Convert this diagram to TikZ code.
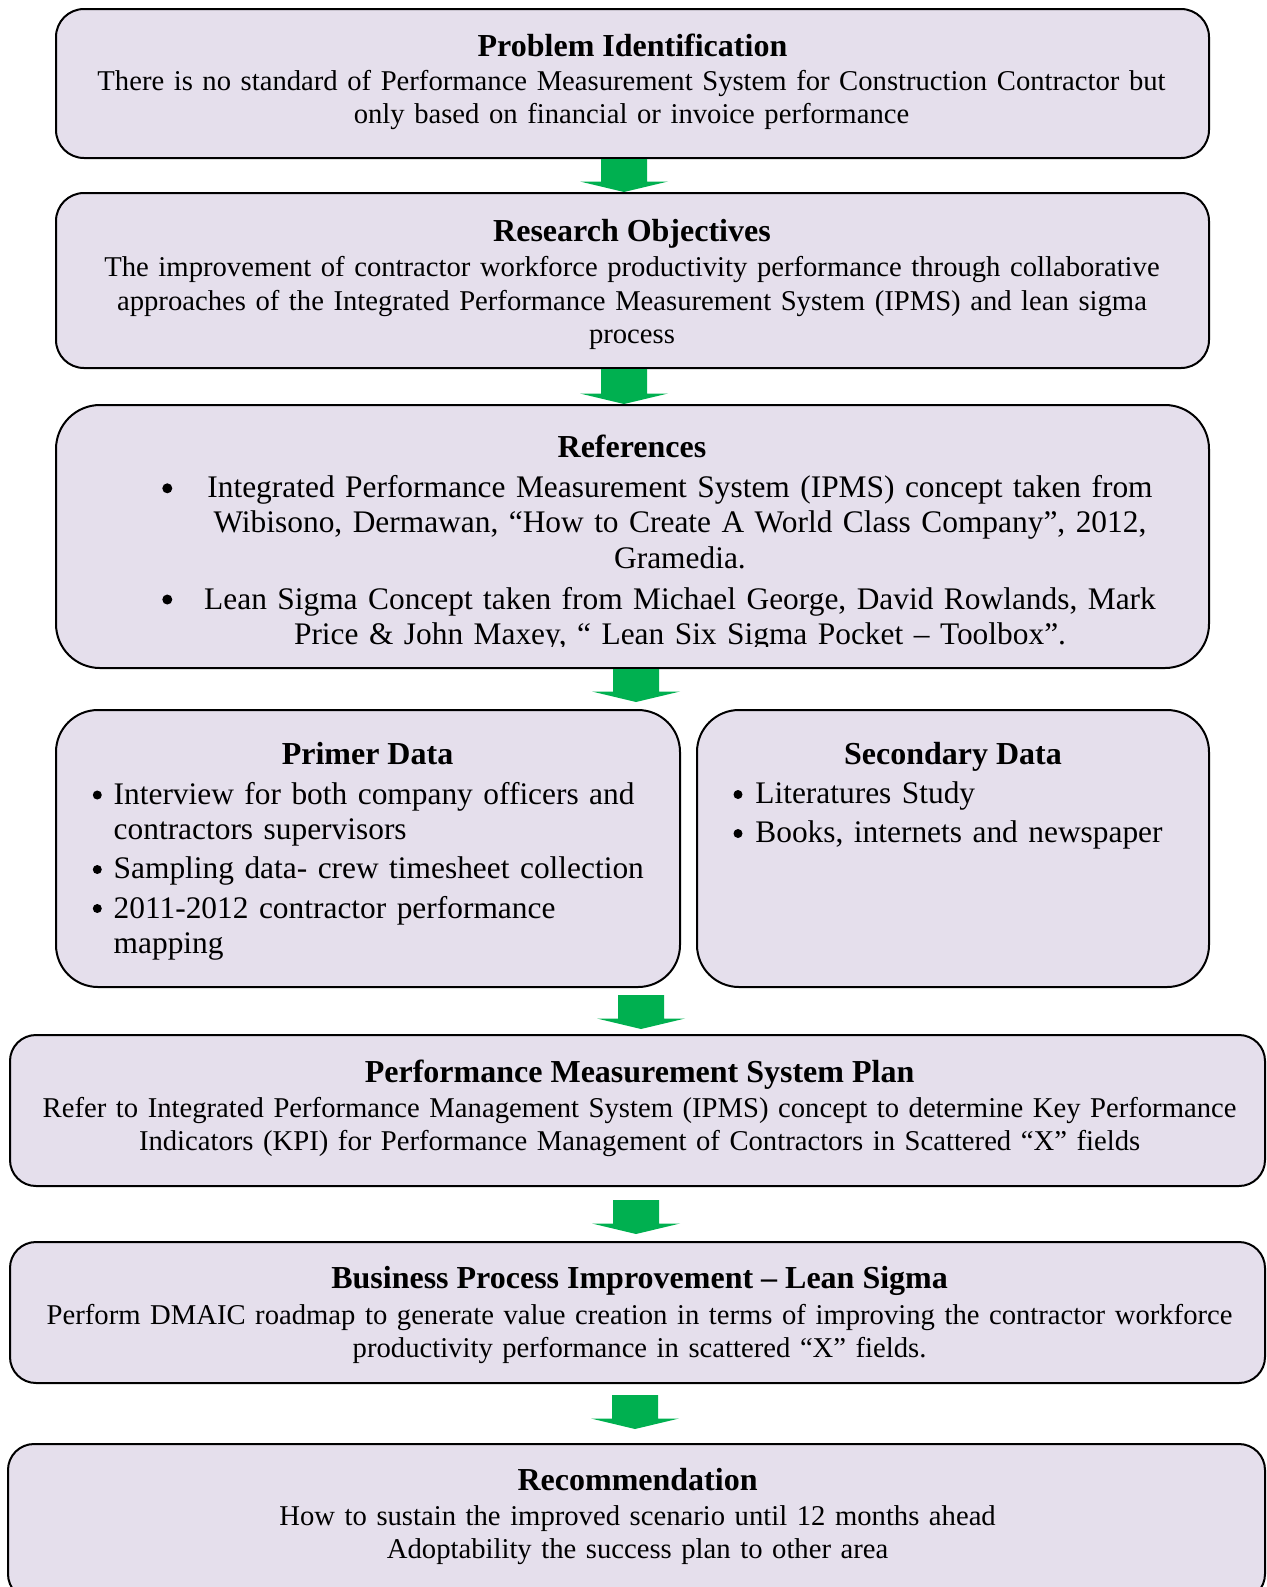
\documentclass[tikz,border=0pt]{standalone}
\usepackage{fontspec}
\setmainfont{Liberation Serif}
\usetikzlibrary{calc}

\definecolor{boxfill}{HTML}{E5DFEC}
\definecolor{flowgreen}{HTML}{00B050}

\newcommand\bodysize{\fontsize{14.33}{16.7}\selectfont}
\newcommand\listsize{\fontsize{15.7}{17.8}\selectfont}
\newcommand\refsize{\fontsize{15.7}{17.7}\selectfont}
\newcommand\headsize{\fontsize{16}{18}\selectfont\bfseries}

% block arrow: from node, to node, axis x, gap below source, gap above target
\newcommand\fatarrow[5]{%
  \coordinate (#1#2ax) at (#3,0);
  \coordinate (#1#2top) at ($(#1.south -| #1#2ax)+(0,#4)$);
  \coordinate (#1#2tip) at ($(#2.north -| #1#2ax)+(0,-#5)$);
  \fill[flowarrow] ($(#1#2top)+(-23,0)$) -- ($(#1#2top)+(23,0)$)
    -- ($(#1#2tip)+(23,-10.5)$) -- ($(#1#2tip)+(44,-10.5)$) -- (#1#2tip)
    -- ($(#1#2tip)+(-44,-10.5)$) -- ($(#1#2tip)+(-23,-10.5)$) -- cycle;}

\tikzset{
  x=0.5pt, y=-0.5pt,
  panel/.style={draw=black, line width=1pt, fill=boxfill, rectangle, inner sep=0pt},
  heading/.style={anchor=base, inner sep=0pt, font=\headsize},
  bodytext/.style={anchor=base, inner sep=0pt, align=center, text width=620pt, font=\bodysize},
  listtext/.style={anchor=base west, inner sep=0pt, align=left, text width=290pt, font=\listsize},
  reftext/.style={anchor=base, inner sep=0pt, align=center, text width=500pt, font=\refsize},
  dot/.style={circle, fill=black, inner sep=0pt, minimum size=#1},
  dot/.default=4.5pt,
  flowarrow/.style={fill=flowgreen},
}

\begin{document}
\begin{tikzpicture}
\useasboundingbox (0,0) rectangle (1267,1587);
\clip (0,0) rectangle (1267,1587);

% boxes
\node[panel, minimum width=576.5pt, minimum height=74.5pt, rounded corners=14pt] (b1) at (632.5,83.5) {};
\node[panel, minimum width=576.5pt, minimum height=87.5pt, rounded corners=14pt] (b2) at (632.5,280.5) {};
\node[panel, minimum width=576.5pt, minimum height=131.5pt, rounded corners=22pt] (b3) at (632.5,536.5) {};
\node[panel, minimum width=312pt, minimum height=138.5pt, rounded corners=21pt] (b4a) at (368,848.5) {};
\node[panel, minimum width=256pt, minimum height=138.5pt, rounded corners=21pt] (b4b) at (953,848.5) {};
\node[panel, minimum width=627.5pt, minimum height=75.5pt, rounded corners=13pt] (b5) at (637.5,1110.5) {};
\node[panel, minimum width=627.5pt, minimum height=70.5pt, rounded corners=13pt] (b6) at (637.5,1312.5) {};
\node[panel, minimum width=628.5pt, minimum height=78pt, rounded corners=13pt] (b7) at (636.5,1522) {};

% box texts
\node[heading] (t1) at (632.5,56) {Problem Identification};
\node[bodytext] (d1) at (631.5,90.5) {There is no standard of Performance Measurement System for Construction Contractor but\\ only based on financial or invoice performance};

\node[heading] (t2) at (632,241.5) {Research Objectives};
\node[bodytext, font=\fontsize{14.33}{16.75}\selectfont] (d2) at (632,276.5) {The improvement of contractor workforce productivity performance through collaborative\\ approaches of the Integrated Performance Measurement System (IPMS) and lean sigma\\ process};

\node[heading] (t3) at (632,457) {References};
\node[dot=5pt] (r1) at (167.3,488.3) {};
\node[dot=5pt] (r2) at (167.3,599.5) {};
\begin{scope}
  \clip (b3.north west) rectangle ($(b3.south east)+(0,-23)$);
  \node[reftext] (d3) at (680,497.3) {Integrated Performance Measurement System (IPMS) concept taken from\\ Wibisono, Dermawan, “How to Create A World Class Company”, 2012,\\ Gramedia.\\[3pt] Lean Sigma Concept taken from Michael George, David Rowlands, Mark\\ Price \& John Maxey, “ Lean Six Sigma Pocket – Toolbox”.};
\end{scope}

\node[heading] (t4a) at (367.5,764) {Primer Data};
\node[dot] (p1) at (97.3,795) {};
\node[dot] (p2) at (97.3,869.5) {};
\node[dot] (p3) at (97.3,908.5) {};
\node[listtext] (d4a) at (113.3,804) {Interview for both company officers and\\ contractors supervisors\\[1.8pt] Sampling data- crew timesheet collection\\[1.8pt] 2011-2012 contractor performance\\ mapping};

\node[heading] (t4b) at (953,764) {Secondary Data};
\node[dot] (s1) at (738,794.5) {};
\node[dot] (s2) at (738,833.5) {};
\node[listtext] (d4b) at (755,803.5) {Literatures Study\\[1.8pt] Books, internets and newspaper};

\node[heading] (t5) at (639.6,1082.5) {Performance Measurement System Plan};
\node[bodytext] (d5) at (639.6,1117.5) {Refer to Integrated Performance Management System (IPMS) concept to determine Key Performance\\ Indicators (KPI) for Performance Management of Contractors in Scattered “X” fields};

\node[heading] (t6) at (639.6,1288.5) {Business Process Improvement – Lean Sigma};
\node[bodytext] (d6) at (639.6,1324.5) {Perform DMAIC roadmap to generate value creation in terms of improving the contractor workforce\\ productivity performance in scattered “X” fields.};

\node[heading] (t7) at (637.6,1490.5) {Recommendation};
\node[bodytext] (d7) at (637.6,1525.5) {How to sustain the improved scenario until 12 months ahead\\ Adoptability the success plan to other area};

% connectors
\fatarrow{b1}{b2}{624}{0}{0}
\fatarrow{b2}{b3}{624}{0}{0}
\fatarrow{b3}{b4a}{636}{0}{7}
\fatarrow{b4a}{b5}{641}{7}{5}
\fatarrow{b5}{b6}{636}{13}{7}
\fatarrow{b6}{b7}{635}{11}{14}
\end{tikzpicture}
\end{document}
